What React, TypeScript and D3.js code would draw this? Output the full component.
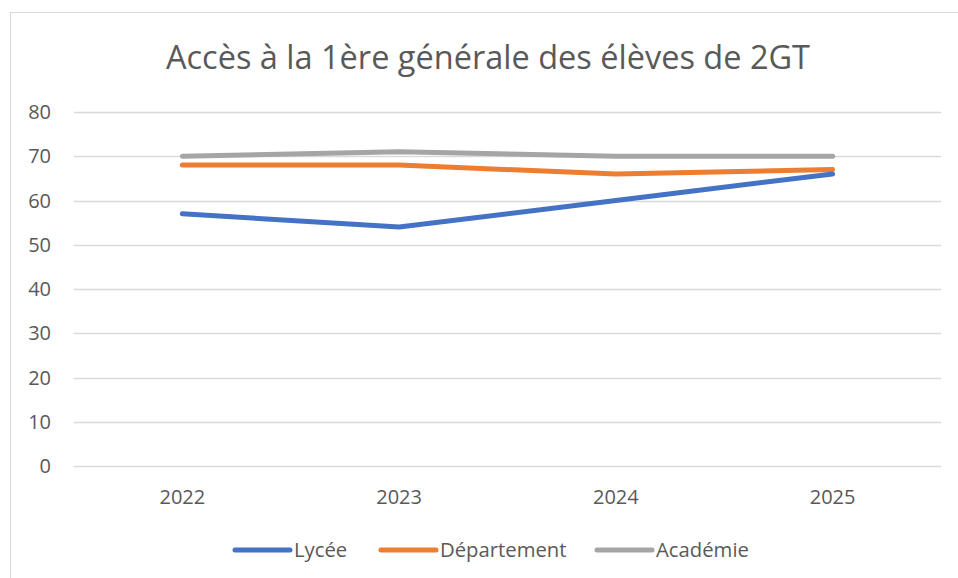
import React, { useEffect, useRef } from 'react';
import * as d3 from 'd3';

const title = 'Accès à la 1ère générale des élèves de 2GT';
const years = ['2022', '2023', '2024', '2025'];
const yTicks = [0, 10, 20, 30, 40, 50, 60, 70, 80];
const seriesNames = ['Lycée', 'Département', 'Académie'];
const lyceeValues = [57, 54, 60, 66];
const departementValues = [68, 68, 66, 67];
const academieValues = [70, 71, 70, 70];
const seriesColors = ['#4472C4', '#ED7D31', '#A5A5A5'];

const W = 958;
const H = 578;
const FONT = "'Open Sans', 'Noto Sans', sans-serif";

function App() {
  const ref = useRef<SVGSVGElement>(null);

  useEffect(() => {
    const svg = d3.select(ref.current);
    svg.selectAll('*').remove();

    const margin = { top: 112, right: 17, bottom: 112, left: 74 };
    const width = W - margin.left - margin.right;
    const height = H - margin.top - margin.bottom;

    // chart frame
    svg.append('rect')
      .attr('x', 10.5).attr('y', 12.5)
      .attr('width', 1000).attr('height', 1000)
      .attr('fill', '#fff')
      .attr('stroke', '#D9D9D9')
      .attr('stroke-width', 1);

    svg.append('text')
      .attr('x', 488).attr('y', 69)
      .attr('text-anchor', 'middle')
      .attr('font-family', FONT)
      .attr('font-size', 32.5)
      .attr('fill', '#595959')
      .text(title);

    const g = svg.append('g').attr('transform', `translate(${margin.left},${margin.top})`);

    const x = d3.scaleBand().domain(years).range([0, width]);
    const y = d3.scaleLinear().domain([0, 80]).range([height, 0]);

    // gridlines
    g.append('g')
      .selectAll('line')
      .data(yTicks)
      .enter()
      .append('line')
      .attr('x1', 0).attr('x2', width)
      .attr('y1', d => Math.round(y(d)) + 0.5)
      .attr('y2', d => Math.round(y(d)) + 0.5)
      .attr('stroke', '#D9D9D9')
      .attr('stroke-width', 1.3);

    // y labels
    g.append('g')
      .selectAll('text')
      .data(yTicks)
      .enter()
      .append('text')
      .attr('x', -23)
      .attr('y', d => y(d))
      .attr('dy', '0.36em')
      .attr('text-anchor', 'end')
      .attr('font-family', FONT)
      .attr('font-size', 20)
      .attr('fill', '#595959')
      .text(d => d);

    // x labels
    g.append('g')
      .selectAll('text')
      .data(years)
      .enter()
      .append('text')
      .attr('x', d => (x(d) ?? 0) + x.bandwidth() / 2)
      .attr('y', height + 38)
      .attr('text-anchor', 'middle')
      .attr('font-family', FONT)
      .attr('font-size', 20)
      .attr('fill', '#595959')
      .text(d => d);

    const allSeries = [lyceeValues, departementValues, academieValues];
    const line = d3.line<number>()
      .x((_, i) => (x(years[i]) ?? 0) + x.bandwidth() / 2)
      .y(d => y(d));

    // draw academie first so lycee is on top
    [2, 1, 0].forEach(si => {
      g.append('path')
        .datum(allSeries[si])
        .attr('d', line)
        .attr('fill', 'none')
        .attr('stroke', seriesColors[si])
        .attr('stroke-width', 5)
        .attr('stroke-linecap', 'round')
        .attr('stroke-linejoin', 'round');
    });

    // legend
    const legendX = [235, 381, 597];
    const legend = svg.append('g');
    seriesNames.forEach((name, i) => {
      legend.append('line')
        .attr('x1', legendX[i]).attr('x2', legendX[i] + 55)
        .attr('y1', 550).attr('y2', 550)
        .attr('stroke', seriesColors[i])
        .attr('stroke-width', 5)
        .attr('stroke-linecap', 'round');
      legend.append('text')
        .attr('x', legendX[i] + 59)
        .attr('y', 550)
        .attr('dy', '0.36em')
        .attr('font-family', FONT)
        .attr('font-size', 20.3)
        .attr('fill', '#595959')
        .text(name);
    });
  }, []);

  return (
    <div style={{ position: 'absolute', left: 0, top: 0 }}>
      <svg ref={ref} width={W} height={H} style={{ display: 'block' }} />
    </div>
  );
}

export default App;
